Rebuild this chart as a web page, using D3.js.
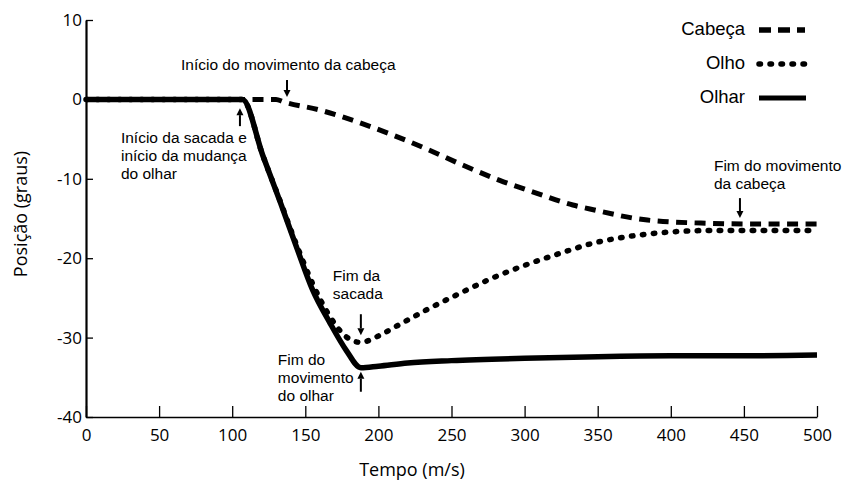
<!DOCTYPE html>
<html>
<head>
<meta charset="utf-8">
<script src="https://cdn.jsdelivr.net/npm/d3@7/dist/d3.min.js"></script>
<style>
  body { margin: 0; background: #fff; }
  .tick-label { font-family: "Open Sans", sans-serif; font-size: 17px; fill: #000; }
  .note { font-family: "Liberation Sans", Arial, sans-serif; font-size: 15.5px; fill: #000; }
  .legend-text { font-family: "Liberation Sans", Arial, sans-serif; font-size: 18.5px; fill: #000; }
</style>
</head>
<body>
<svg id="chart" width="843" height="482"></svg>
<script>
// series (time in ms, position in degrees)
const gazeT  = [0, 107, 121, 133, 144, 155, 167, 178, 188, 200, 220, 250, 300, 350, 400, 450, 500];
const gazeV  = [0, 0, -7.1, -13.0, -18.6, -24.0, -28.2, -31.6, -33.8, -33.6, -33.2, -32.9, -32.6, -32.4, -32.3, -32.3, -32.2];

const eyeT   = [0, 107, 121, 133, 144, 155, 167, 178, 188, 200, 210, 233, 256, 278, 300, 324, 347, 370, 393, 430, 470, 500];
const eyeV   = [0, 0, -7.1, -12.9, -18.3, -23.2, -27.4, -29.9, -30.6, -29.8, -28.8, -26.5, -24.4, -22.5, -20.9, -19.4, -18.1, -17.3, -16.8, -16.5, -16.5, -16.5];

const headT  = [0, 130, 135, 160, 185, 210, 235, 258, 283, 308, 333, 347, 384, 425, 460, 500];
const headV  = [0, 0, -0.3, -1.35, -2.8, -4.5, -6.4, -8.3, -10.2, -11.8, -13.3, -13.9, -15.2, -15.6, -15.7, -15.7];

const xTicks = [0, 50, 100, 150, 200, 250, 300, 350, 400, 450, 500];
const yTicks = [10, 0, -10, -20, -30, -40];

const legendNames = ['Cabeça', 'Olho', 'Olhar'];

const svg = d3.select('#chart');

const x = d3.scaleLinear().domain([0, 500]).range([86, 817]);
const y = d3.scaleLinear().domain([-40, 10]).range([417, 20]);

// axes (plain hyphen for negatives, as in the original)
let plain = d => String(d);

let xAxis = d3.axisBottom(x).tickValues(xTicks).tickFormat(plain).tickSize(-11).tickPadding(9).tickSizeOuter(0);
let gx = svg.append('g').attr('transform', 'translate(0,' + y(-40) + ')').call(xAxis);
gx.select('.domain').attr('stroke', '#000').attr('stroke-width', 1.5);
gx.selectAll('.tick line').attr('stroke', '#000').attr('stroke-width', 1.3);
gx.selectAll('.tick text').attr('class', 'tick-label').attr('font-size', null).attr('font-family', null).attr('dy', '0.9em');

let yAxis = d3.axisLeft(y).tickValues(yTicks).tickFormat(plain).tickSize(-7).tickPadding(4).tickSizeOuter(0);
let gy = svg.append('g').attr('transform', 'translate(' + x(0) + ',0)').call(yAxis);
gy.select('.domain').attr('stroke', '#000').attr('stroke-width', 2.2);
gy.selectAll('.tick line').attr('stroke', '#000').attr('stroke-width', 1.3);
gy.selectAll('.tick text').attr('class', 'tick-label').attr('font-size', null).attr('font-family', null);

svg.append('text').attr('class', 'tick-label')
  .attr('x', 412).attr('y', 476).attr('text-anchor', 'middle')
  .style('font-size', '18px').text('Tempo (m/s)');

svg.append('text').attr('class', 'tick-label')
  .attr('transform', 'translate(27,214) rotate(-90)').attr('text-anchor', 'middle')
  .style('font-size', '18px').text('Posição (graus)');

// lines
let line = d3.line()
  .x(d => x(d[0]))
  .y(d => y(d[1]))
  .curve(d3.curveMonotoneX);

let zip = (ts, vs) => ts.map((t, i) => [t, vs[i]]);

svg.append('path').datum(zip(headT, headV))
  .attr('d', line).attr('fill', 'none').attr('stroke', '#000')
  .attr('stroke-width', 5).attr('stroke-dasharray', '11,7.5');

svg.append('path').datum(zip(eyeT, eyeV))
  .attr('d', line).attr('fill', 'none').attr('stroke', '#000')
  .attr('stroke-width', 5.5).attr('stroke-linecap', 'round').attr('stroke-dasharray', '1.5,9.5');

svg.append('path').datum(zip(gazeT, gazeV))
  .attr('d', line).attr('fill', 'none').attr('stroke', '#000')
  .attr('stroke-width', 5.5).attr('stroke-linejoin', 'round');

// legend
let legendStyles = [
  { dash: '12,7', cap: 'butt', w: 5.5, len: 46, ty: 29 },
  { dash: '1.5,9.5', cap: 'round', w: 5.5, len: 51, ty: 63 },
  { dash: null, cap: 'butt', w: 5, len: 47, ty: 97 }
];
legendNames.forEach((name, i) => {
  let s = legendStyles[i];
  svg.append('text').attr('class', 'legend-text')
    .attr('x', 745).attr('y', s.ty).attr('dy', '0.35em')
    .attr('text-anchor', 'end').text(name);
  svg.append('line')
    .attr('x1', 759).attr('x2', 759 + s.len)
    .attr('y1', s.ty + 1).attr('y2', s.ty + 1)
    .attr('stroke', '#000').attr('stroke-width', s.w)
    .attr('stroke-linecap', s.cap)
    .attr('stroke-dasharray', s.dash);
});

// annotations: arrow tip in data space, direction, length, text block offsets
const notes = [
  { t: 137.5, v: 0.3, dir: 'down', len: 17, lines: ['Início do movimento da cabeça'], dx: -106, dy: -27 },
  { t: 105.3, v: -1.1, dir: 'up', len: 18, lines: ['Início da sacada e', 'início da mudança', 'do olhar'], dx: -119, dy: 35 },
  { t: 447.3, v: -14.95, dir: 'down', len: 20, lines: ['Fim do movimento', 'da cabeça'], dx: -26, dy: -47 },
  { t: 188, v: -29.7, dir: 'down', len: 21, lines: ['Fim da', 'sacada'], dx: -28, dy: -54 },
  { t: 188, v: -34.3, dir: 'up', len: 20, lines: ['Fim do', 'movimento', 'do olhar'], dx: -83, dy: -7 }
];

notes.forEach(n => {
  let px = x(n.t), py = y(n.v);
  let s = n.dir === 'down' ? -1 : 1;
  let head = 7;
  svg.append('line')
    .attr('x1', px).attr('x2', px)
    .attr('y1', py + s * n.len).attr('y2', py + s * head)
    .attr('stroke', '#000').attr('stroke-width', 2);
  svg.append('path')
    .attr('d', 'M' + px + ',' + py + 'L' + (px - 3.5) + ',' + (py + s * head) + 'L' + (px + 3.5) + ',' + (py + s * head) + 'Z')
    .attr('fill', '#000');
  let txt = svg.append('text').attr('class', 'note')
    .attr('x', px + n.dx).attr('y', py + n.dy);
  n.lines.forEach((l, i) => {
    txt.append('tspan').attr('x', px + n.dx).attr('dy', i === 0 ? 0 : 18).text(l);
  });
});
</script>
</body>
</html>
